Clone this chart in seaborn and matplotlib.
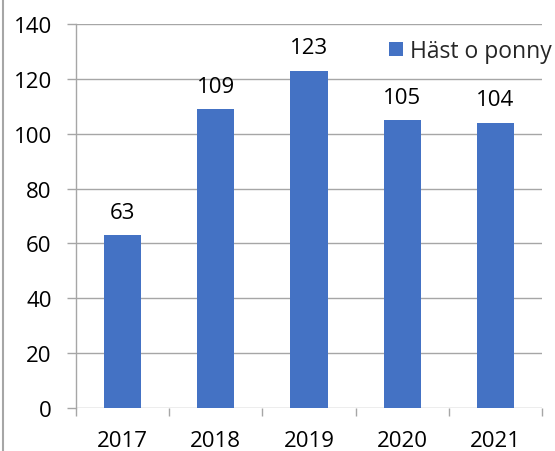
import matplotlib
matplotlib.use("Agg")
import matplotlib.pyplot as plt
import seaborn as sns
import pandas as pd
from matplotlib.lines import Line2D
from matplotlib.patches import Patch

years = ["2017", "2018", "2019", "2020", "2021"]
values = [63, 109, 123, 105, 104]
series_name = "Häst o ponny"
yticks = [0, 20, 40, 60, 80, 100, 120, 140]

sns.set_theme(style="white")
plt.rcParams['font.family'] = ['Open Sans', 'DejaVu Sans']

df = pd.DataFrame({"year": years, "value": values})

fig = plt.figure(figsize=(5.55, 4.52), dpi=100)
ax = fig.add_axes([76/555, 1 - 409/452, (542 - 76)/555, (409 - 25)/452])

blue = "#4472C4"
grid = "#A6A6A6"
FS = 16
sns.barplot(data=df, x="year", y="value", color=blue, width=0.4, ax=ax,
            saturation=1, edgecolor="none")

ax.set_xlim(-0.5, 4.5)
ax.set_ylim(0, 140)
ax.set_yticks(yticks)
ax.set_yticklabels([str(t) for t in yticks], fontsize=FS, color="black")
ax.set_xlabel("")
ax.set_ylabel("")
ax.yaxis.grid(True, color=grid, linewidth=1)
ax.set_axisbelow(True)

for s in ["top", "right", "bottom"]:
    ax.spines[s].set_visible(False)
ax.spines["left"].set_color(grid)
ax.spines["left"].set_linewidth(1)

ax.tick_params(axis="y", which="major", direction="out", length=6.5, width=1,
               color=grid, pad=11, left=True)
ax.set_xticks(range(len(years)))
ax.set_xticklabels(years, fontsize=FS, color="black")
ax.tick_params(axis="x", which="major", length=0, pad=16)
ax.set_xticks([i - 0.5 for i in range(len(years) + 1)], minor=True)
ax.tick_params(axis="x", which="minor", direction="out", length=6, width=1,
               color=grid, bottom=True)

for i, v in enumerate(values):
    ax.annotate(str(v), (i, v), xytext=(0, 12.5), textcoords="offset points",
                ha="center", va="baseline", fontsize=FS, color="black")

leg = ax.legend(handles=[Patch(facecolor=blue, edgecolor="none", label=series_name)],
                loc="center left", bbox_to_anchor=(389/555, 1 - 52/452),
                bbox_transform=fig.transFigure, frameon=False, fontsize=16.5,
                handlelength=0.62, handleheight=0.62, handletextpad=0.3,
                borderaxespad=0, borderpad=0)

fig.add_artist(Line2D([2.5/555, 2.5/555], [0, 1], transform=fig.transFigure,
                      color="#A6A6A6", linewidth=1.5))

fig.savefig("out.png", dpi=100)
